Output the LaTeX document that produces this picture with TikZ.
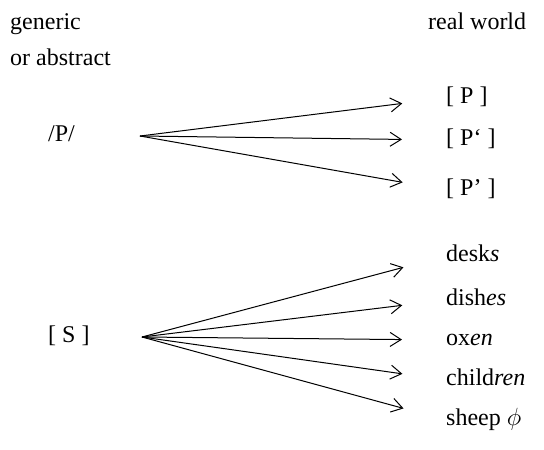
\documentclass[tikz,border=0pt]{standalone}
\usepackage{fontspec}
\setmainfont{Liberation Serif}
\usetikzlibrary{positioning,arrows.meta}

\begin{document}
\begin{tikzpicture}[x=1pt,y=-1pt,font=\fontsize{24}{28}\selectfont]
\tikzset{
  HD/.style={anchor=base west,inner sep=0pt},
  LB/.style={anchor=west,inner sep=0pt,text height=16pt,text depth=5pt},
  FL/.style={-{Straight Barb[length=11pt,width=14pt]},line width=1pt,shorten >=44pt},
}
\useasboundingbox (0,0) rectangle (544,450);

\node[HD](gen)  at (10,29){generic};
\node[HD](abs)  at (10,65){or abstract};
\node[HD](real) at (428,29){real world};

\node[LB](phon) at (48,136){/P/};
\node[LB](plur) at (48,337){[ S ]};

\coordinate (pfork) at (140,136);
\coordinate (sfork) at (142,337);

\node[LB](pa) at (446,98){[ P ]};
\node[LB](pb) at (446,140){[ P‘ ]};
\node[LB](pc) at (446,190){[ P’ ]};

\node[LB](desks)    at (446,256){desk\textit{s}};
\node[LB](dishes)   at (446,300){dish\textit{es}};
\node[LB](oxen)     at (446,340){ox\textit{en}};
\node[LB](children) at (446,380){child\textit{ren}};
\node[LB](sheep)    at (446,420){sheep $\phi$};

\draw[FL](pfork)--(pa.west);
\draw[FL](pfork)--(pb.west);
\draw[FL](pfork)--(pc.west);

\draw[FL](sfork)--(desks.west);
\draw[FL](sfork)--(dishes.west);
\draw[FL](sfork)--(oxen.west);
\draw[FL](sfork)--(children.west);
\draw[FL](sfork)--(sheep.west);

\end{tikzpicture}
\end{document}
